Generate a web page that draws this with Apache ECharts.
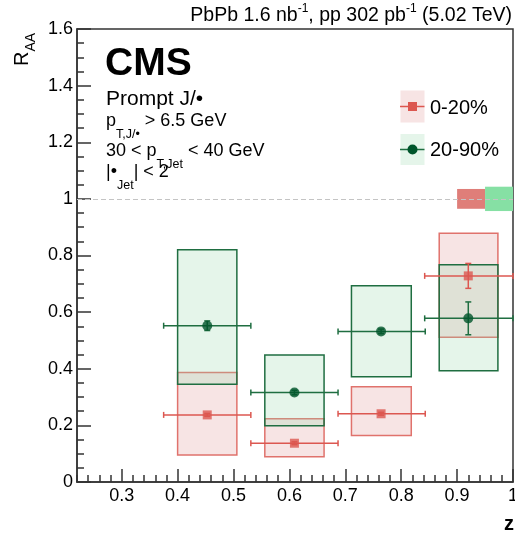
<!DOCTYPE html>
<html>
<head>
<meta charset="utf-8">
<script src="https://cdn.jsdelivr.net/npm/echarts@6/dist/echarts.min.js"></script>
<style>html,body{margin:0;padding:0;background:#fff}#c{width:515px;height:536px}</style>
</head>
<body>
<div id="c"></div>
<script>
// ---- data ----
const zCenters   = [0.453, 0.609, 0.764, 0.920];
const zBinLo     = [0.375, 0.531, 0.687, 0.842];
const zBinHi     = [0.531, 0.687, 0.843, 1.000];
const sysBoxLo   = [0.400, 0.556, 0.711, 0.868];
const sysBoxHi   = [0.506, 0.662, 0.818, 0.973];

const raaCent    = [0.237, 0.137, 0.241, 0.728];   // 0-20%
const statCent   = [0.005, 0.005, 0.005, 0.044];
const sysCentLo  = [0.095, 0.089, 0.164, 0.511];
const sysCentHi  = [0.387, 0.223, 0.336, 0.879];

const raaPeri    = [0.552, 0.316, 0.532, 0.578];   // 20-90%
const statPeri   = [0.017, 0.008, 0.008, 0.058];
const sysPeriLo  = [0.345, 0.199, 0.372, 0.393];
const sysPeriHi  = [0.820, 0.449, 0.693, 0.767];

const globalUnc  = [0.035, 0.043];   // 0-20%, 20-90% global uncertainty around 1
const globXLo    = [0.90, 0.95];
const globXHi    = [0.95, 1.00];
const refLine    = 1;

const xMajorTicks = [0.3, 0.4, 0.5, 0.6, 0.7, 0.8, 0.9, 1.0];
const xMinorTicks = [0.22,0.24,0.26,0.28,0.32,0.34,0.36,0.38,0.42,0.44,0.46,0.48,0.52,0.54,0.56,0.58,0.62,0.64,0.66,0.68,0.72,0.74,0.76,0.78,0.82,0.84,0.86,0.88,0.92,0.94,0.96,0.98];
const legendNames = ['0-20%', '20-90%'];

// ---- styles ----
const FONT = "'Liberation Sans', Arial, Helvetica, sans-serif";
const RED = '#dc5750', RED_BORDER = '#e0726c', RED_FILL = 'rgba(223,147,147,0.25)';
const GREEN = '#00552b', GREEN_BORDER = '#1f6e41', GREEN_FILL = 'rgba(151,215,171,0.25)';
const GLOB_RED = '#df7e79', GLOB_GREEN = '#86e0a4';

function boxData(lo, hi) { return zCenters.map((z, i) => [sysBoxLo[i], sysBoxHi[i], lo[i], hi[i]]); }
function errData(raa, stat) { return zCenters.map((z, i) => [z, raa[i], zBinLo[i], zBinHi[i], stat[i]]); }

function boxRender(fill, stroke, lw) {
  return function (params, api) {
    const p0 = api.coord([api.value(0), api.value(3)]);
    const p1 = api.coord([api.value(1), api.value(2)]);
    return { type: 'rect', shape: { x: p0[0], y: p0[1], width: p1[0] - p0[0], height: p1[1] - p0[1] },
      style: { fill: fill, stroke: stroke, lineWidth: lw } };
  };
}
function errRender(color) {
  return function (params, api) {
    const x = api.value(0), y = api.value(1), xl = api.value(2), xh = api.value(3), e = api.value(4);
    const pl = api.coord([xl, y]), ph = api.coord([xh, y]);
    const pt = api.coord([x, y + e]), pb = api.coord([x, y - e]);
    const st = { stroke: color, lineWidth: 1.5 };
    const c = 3;
    return { type: 'group', children: [
      { type: 'line', shape: { x1: pl[0], y1: pl[1], x2: ph[0], y2: ph[1] }, style: st },
      { type: 'line', shape: { x1: pl[0], y1: pl[1] - c, x2: pl[0], y2: pl[1] + c }, style: st },
      { type: 'line', shape: { x1: ph[0], y1: ph[1] - c, x2: ph[0], y2: ph[1] + c }, style: st },
      { type: 'line', shape: { x1: pt[0], y1: pt[1], x2: pb[0], y2: pb[1] }, style: st },
      { type: 'line', shape: { x1: pt[0] - c, y1: pt[1], x2: pt[0] + c, y2: pt[1] }, style: st },
      { type: 'line', shape: { x1: pb[0] - c, y1: pb[1], x2: pb[0] + c, y2: pb[1] }, style: st }
    ] };
  };
}
function globRender(params, api) {
  const p0 = api.coord([api.value(0), refLine + api.value(2)]);
  const p1 = api.coord([api.value(1), refLine - api.value(2)]);
  return { type: 'rect', shape: { x: p0[0], y: p0[1], width: p1[0] - p0[0], height: p1[1] - p0[1] },
    style: { fill: params.dataIndex === 0 ? GLOB_RED : GLOB_GREEN } };
}

const chart = echarts.init(document.getElementById('c'), null, { renderer: 'canvas' });
const axisLine = { show: true, lineStyle: { color: '#333', width: 1.5 } };
const fmt = v => String(+(+v).toFixed(2));
const subRich = {
  n: { fontSize: 18, fontFamily: FONT, lineHeight: 20, verticalAlign: 'top', fill: '#000' },
  b: { fontSize: 12.5, fontFamily: FONT, lineHeight: 29, verticalAlign: 'bottom', fill: '#000' }
};

chart.setOption({
  animation: false,
  backgroundColor: '#fff',
  grid: { left: 77, right: 2, top: 29, bottom: 54, show: true, borderColor: '#333', borderWidth: 1.5, outerBoundsMode: 'none' },
  xAxis: [
    { type: 'value', min: 0.22, max: 1.0, axisLine: axisLine,
      axisTick: { show: true, inside: true, length: 13, customValues: xMajorTicks, lineStyle: { color: '#333', width: 1.5 } },
      axisLabel: { show: true, customValues: xMajorTicks, formatter: fmt, color: '#000', fontSize: 18, fontFamily: FONT, margin: 5, showMaxLabel: true, showMinLabel: true },
      splitLine: { show: false } },
    { type: 'value', min: 0.22, max: 1.0, position: 'bottom', axisLine: { show: false },
      axisTick: { show: true, inside: true, length: 7, customValues: xMinorTicks, lineStyle: { color: '#333', width: 1.5 } },
      axisLabel: { show: false }, splitLine: { show: false } }
  ],
  yAxis: [
    { type: 'value', min: 0, max: 1.6, interval: 0.2, axisLine: axisLine,
      axisTick: { show: true, inside: true, length: 14, lineStyle: { color: '#333', width: 1.5 } },
      minorTick: { show: true, splitNumber: 4, length: 7, lineStyle: { color: '#333', width: 1.5 } },
      axisLabel: { formatter: fmt, color: '#000', fontSize: 18, fontFamily: FONT, margin: 4 },
      splitLine: { show: false }, minorSplitLine: { show: false } }
  ],
  series: [
    { type: 'custom', name: 'sys0', renderItem: boxRender(RED_FILL, RED_BORDER, 1.5), data: boxData(sysCentLo, sysCentHi), z: 2, silent: true },
    { type: 'custom', name: 'sys1', renderItem: boxRender(GREEN_FILL, GREEN_BORDER, 1.5), data: boxData(sysPeriLo, sysPeriHi), z: 3, silent: true },
    { type: 'custom', name: 'glob', renderItem: globRender, data: globalUnc.map((u, i) => [globXLo[i], globXHi[i], u]), z: 3, silent: true },
    { type: 'line', name: 'ref', data: [], z: 4, silent: true,
      markLine: { silent: true, symbol: 'none', label: { show: false }, data: [{ yAxis: refLine }],
        lineStyle: { color: '#c4c4c4', type: [5, 3], width: 1.2 } } },
    { type: 'custom', name: 'err1', renderItem: errRender(GREEN_BORDER), data: errData(raaPeri, statPeri), z: 5, silent: true },
    { type: 'scatter', name: legendNames[1], data: zCenters.map((z, i) => [z, raaPeri[i]]), symbol: 'circle', symbolSize: 10, itemStyle: { color: GREEN }, z: 6, silent: true },
    { type: 'custom', name: 'err0', renderItem: errRender(RED), data: errData(raaCent, statCent), z: 7, silent: true },
    { type: 'scatter', name: legendNames[0], data: zCenters.map((z, i) => [z, raaCent[i]]), symbol: 'rect', symbolSize: 9, itemStyle: { color: RED }, z: 8, silent: true }
  ],
  graphic: [
    { type: 'text', z: 100, style: { x: 512, y: 3, textAlign: 'right', textVerticalAlign: 'top',
        text: '{n|PbPb 1.6 nb}{s|-1}{n|, pp 302 pb}{s|-1}{n| (5.02 TeV)}',
        rich: { n: { fontSize: 19.5, fontFamily: FONT, lineHeight: 23, verticalAlign: 'bottom', fill: '#000' },
                s: { fontSize: 12, fontFamily: FONT, lineHeight: 12, verticalAlign: 'top', fill: '#000' } } } },
    { type: 'text', z: 100, style: { x: 105, y: 45, text: 'CMS', textAlign: 'left', textVerticalAlign: 'top', fontSize: 39, fontWeight: 'bold', fontFamily: FONT, fill: '#000' } },
    { type: 'text', z: 100, style: { x: 106, y: 89, text: 'Prompt J/•', textAlign: 'left', textVerticalAlign: 'top', fontSize: 21, fontFamily: FONT, fill: '#000' } },
    { type: 'text', z: 100, style: { x: 106, y: 112, textAlign: 'left', textVerticalAlign: 'top',
        text: '{n|p}{b|T,J/•}{n| > 6.5 GeV}', rich: subRich } },
    { type: 'text', z: 100, style: { x: 106, y: 142, textAlign: 'left', textVerticalAlign: 'top',
        text: '{n|30 < p}{b|T,Jet}{n| < 40 GeV}', rich: subRich } },
    { type: 'text', z: 100, style: { x: 106, y: 163, textAlign: 'left', textVerticalAlign: 'top',
        text: '{n||•}{b|Jet}{n|| < 2}', rich: subRich } },
    // legend
    { type: 'rect', z: 100, shape: { x: 400.5, y: 90.5, width: 24, height: 32 }, style: { fill: RED_FILL } },
    { type: 'line', z: 101, shape: { x1: 400, y1: 106.5, x2: 424.5, y2: 106.5 }, style: { stroke: RED, lineWidth: 1.5 } },
    { type: 'rect', z: 102, shape: { x: 408, y: 102, width: 9, height: 9 }, style: { fill: RED } },
    { type: 'text', z: 100, style: { x: 430, y: 108.5, text: legendNames[0], textAlign: 'left', textVerticalAlign: 'middle', fontSize: 20, fontFamily: FONT, fill: '#000' } },
    { type: 'rect', z: 100, shape: { x: 400.5, y: 134, width: 24, height: 31 }, style: { fill: GREEN_FILL } },
    { type: 'line', z: 101, shape: { x1: 400, y1: 149.5, x2: 424.5, y2: 149.5 }, style: { stroke: GREEN_BORDER, lineWidth: 1.5 } },
    { type: 'circle', z: 102, shape: { cx: 412.5, cy: 149.5, r: 5 }, style: { fill: GREEN } },
    { type: 'text', z: 100, style: { x: 430, y: 150, text: legendNames[1], textAlign: 'left', textVerticalAlign: 'middle', fontSize: 20, fontFamily: FONT, fill: '#000' } },
    // axis titles
    { type: 'text', z: 100, x: 38, y: 66, rotation: Math.PI / 2, style: { x: 0, y: 0, textAlign: 'left', textVerticalAlign: 'bottom',
        text: '{n|R}{b|AA}',
        rich: { n: { fontSize: 20, fontFamily: FONT, lineHeight: 20, verticalAlign: 'top', fill: '#000' },
                b: { fontSize: 14, fontFamily: FONT, lineHeight: 26, verticalAlign: 'bottom', fill: '#000' } } } },
    { type: 'text', z: 100, style: { x: 514, y: 534, text: 'z', textAlign: 'right', textVerticalAlign: 'bottom', fontSize: 20, fontWeight: 'bold', fontFamily: FONT, fill: '#000' } }
  ]
});
</script>
</body>
</html>
